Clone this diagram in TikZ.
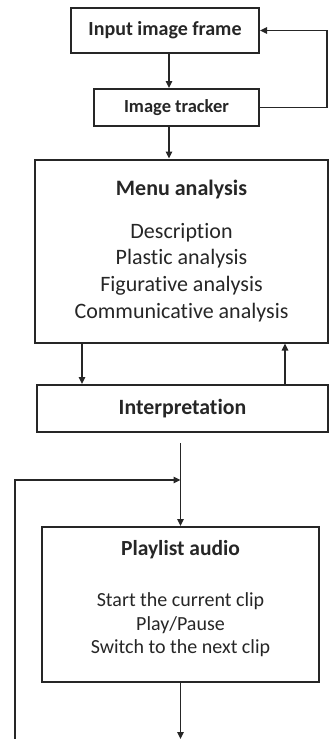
\documentclass[tikz,border=0pt]{standalone}
\usepackage{fontspec}
\setmainfont{Carlito}[Ligatures=NoCommon]
\usetikzlibrary{arrows.meta}

\begin{document}
\begin{tikzpicture}[x=1pt,y=-1pt,
		line width=1.5pt, draw=black!85, text=black!85,
		>={Triangle[length=7pt,width=6.5pt]},
		box/.style={draw, line width=2pt, inner sep=0pt, align=center}]
		\useasboundingbox (0,0) rectangle (329,739);
		\node[box, minimum width=188pt, minimum height=45pt, font=\fontsize{20}{24}\selectfont\bfseries] (frame) at (165,30.5) {Input image frame};
		\node[box, minimum width=165pt, minimum height=37pt, font=\fontsize{18.5}{22}\selectfont\bfseries] (tracker) at (176.5,107.5) {Image tracker};
		\node[box, minimum width=293pt, minimum height=183pt, font=\fontsize{22}{26.7}\selectfont] (menu) at (181.5,251)
			{\textbf{Menu analysis}\\[16pt] Description\\ Plastic analysis\\ Figurative analysis\\ Communicative analysis};
		\node[box, minimum width=291pt, minimum height=47pt, font=\fontsize{21.8}{25}\selectfont\bfseries] (interp) at (182.5,408.5) {Interpretation};
		\node[box, minimum width=277pt, minimum height=155pt, font=\fontsize{20}{23.5}\selectfont] (playlist) at (180.5,604.5)
			{\textbf{\fontsize{21.5}{25}\selectfont Playlist audio}\\[28pt] Start the current clip\\ Play/Pause\\ Switch to the next clip\\[-8pt]};
		\coordinate (merge) at (180.5,480);
		\coordinate (loopend) at (180.5,739);
		\coordinate (corner) at (15,739);
		\draw[->] ([xshift=4pt]frame.south) -- ([xshift=4pt]frame.south |- tracker.north);
		\draw[->] (tracker.east) -- ++(67,0) |- (frame.east);
		\draw[->] ([xshift=-7.5pt]tracker.south) -- ([xshift=-7.5pt]tracker.south |- menu.north);
		\draw[->] ([xshift=-99.5pt]menu.south) -- ([xshift=-99.5pt]menu.south |- interp.north);
		\draw[->] ([xshift=103.5pt]menu.south |- interp.north) -- ([xshift=103.5pt]menu.south);
		\draw[->, shorten <=10pt] (interp.south -| playlist.north) -- (playlist.north);
		\draw[->] (corner) |- (merge);
		\draw[->] (playlist.south) -- (loopend);
	\end{tikzpicture}
\end{document}
